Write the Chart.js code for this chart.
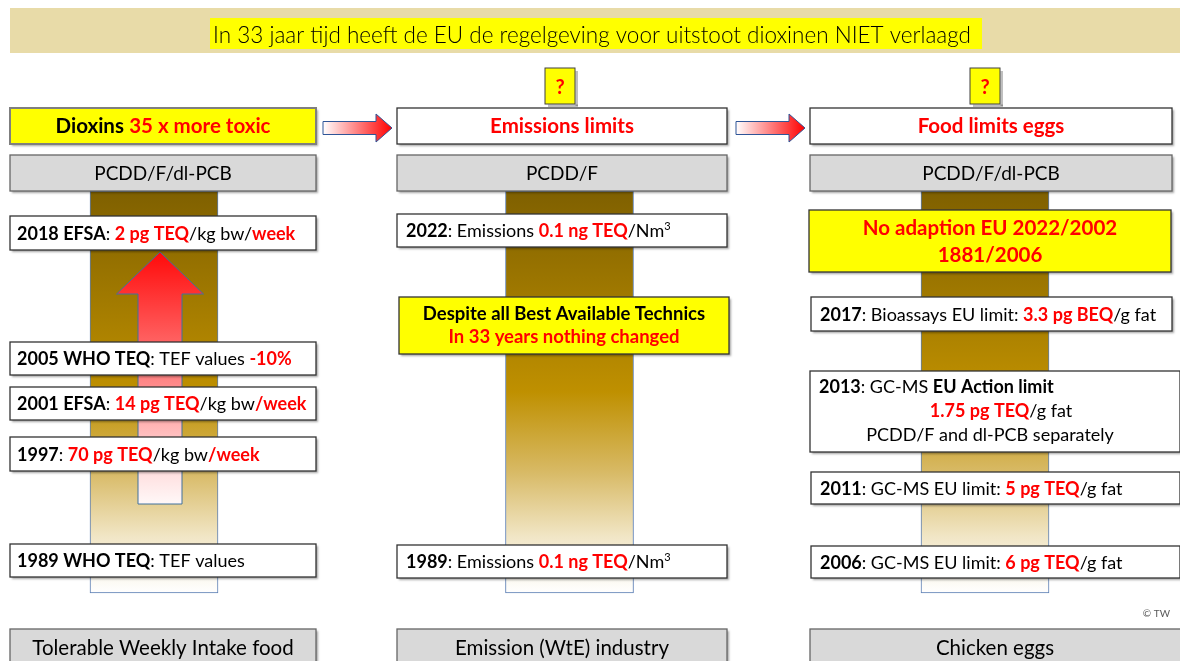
<!DOCTYPE html>
<html>
<head>
<meta charset="utf-8">
<script src="https://cdn.jsdelivr.net/npm/chart.js@4/dist/chart.umd.min.js"></script>
<style>
    html, body { margin: 0; padding: 0; background: #fff; }
    #wrap { width: 1180px; height: 661px; }
</style>
</head>
<body>
<div id="wrap"><canvas id="chart" width="1180" height="661"></canvas></div>
<script>
// === DATA ===
const title = 'In 33 jaar tijd heeft de EU de regelgeving voor uitstoot dioxinen NIET verlaagd';
const columns = ['Tolerable Weekly Intake food', 'Emission (WtE) industry', 'Chicken eggs'];
const compounds = ['PCDD/F/dl-PCB', 'PCDD/F', 'PCDD/F/dl-PCB'];
const spanStart = [1989, 1989, 1989];
const spanEnd = [2022, 2022, 2022];

// markup: *bold*  #red bold#  ^superscript^  | new line
const headlines = ['*Dioxins* #35 x more toxic#', '#Emissions limits#', '#Food limits eggs#'];
const twiNotes = [
    '*2018 EFSA*: #2 pg TEQ#/kg bw/#week#',
    '*2005 WHO TEQ*: TEF values #-10%#',
    '*2001 EFSA*: #14 pg TEQ#/kg bw#/week#',
    '*1997*: #70 pg TEQ#/kg bw#/week#',
    '*1989 WHO TEQ*: TEF values'
];
const emissionNotes = [
    '*2022*: Emissions #0.1 ng TEQ#/Nm^3^',
    '*1989*: Emissions #0.1 ng TEQ#/Nm^3^'
];
const eggNotes = [
    '*2017*: Bioassays EU limit: #3.3 pg BEQ#/g fat',
    '*2013*: GC-MS *EU Action limit*|#1.75 pg TEQ#/g fat|PCDD/F and dl-PCB separately',
    '*2011*: GC-MS EU limit: #5 pg TEQ#/g fat',
    '*2006*: GC-MS EU limit: #6 pg TEQ#/g fat'
];
const callouts = [
    null,
    '*Despite all Best Available Technics*|#In 33 years nothing changed#',
    '#No adaption EU 2022/2002#|#1881/2006#'
];
const credit = '© TW';

// === LAYOUT (slide geometry, px) ===
const FONT = 'Lato, "Open Sans", sans-serif';
const RED = '#ff0000';
const layout = {
    cols: [{ x: 10, w: 306 }, { x: 397, w: 330 }, { x: 810, w: 362 }],
    headline: { y: 108, h: 36 },
    header: { y: 155, h: 36 },
    footer: { y: 629, h: 40 },
    notes: [
        [{ y: 216, h: 34 }, { y: 342, h: 33 }, { y: 387, h: 33 }, { y: 437, h: 34 }, { y: 544, h: 33 }],
        [{ y: 214, h: 33 }, { y: 545, h: 33 }],
        [
            { x: 811, w: 361, y: 297, h: 34 },
            { x: 810, w: 370, y: 371, h: 81, lines: [['left', 819, 393], ['center', 1001, 417], ['center', 990, 441]] },
            { x: 811, w: 369, y: 472, h: 32 },
            { x: 811, w: 369, y: 546, h: 32 }
        ]
    ],
    callouts: [null, { x: 399, y: 297, w: 330, h: 57, base: [320, 343] }, { x: 809, y: 210, w: 362, h: 62, base: [235, 262] }],
    questions: [{ x: 545, y: 68 }, { x: 970, y: 68 }],
    arrows: [{ x0: 323, x1: 392, cy: 128 }, { x0: 736, x1: 805, cy: 128 }],
    twiArrow: { cx: 160, tip: 252, base: 294, bottom: 504 }
};

// === DRAW HELPERS ===
function parseRuns(s) {
    const runs = [];
    let bold = false, red = false, sup = false, buf = '';
    const flush = () => { if (buf) runs.push({ t: buf, bold, red, sup }); buf = ''; };
    for (const ch of s) {
        if (ch === '*') { flush(); bold = !bold; }
        else if (ch === '#') { flush(); red = !red; }
        else if (ch === '^') { flush(); sup = !sup; }
        else buf += ch;
    }
    flush();
    return runs;
}

function runFont(r, size, weight) {
    const sz = r.sup ? Math.round(size * 0.62) : size;
    return `${(r.bold || r.red) ? 'bold' : weight} ${sz}px ${FONT}`;
}

function drawRich(c, s, x, y, size, align, weight = 'normal') {
    const runs = parseRuns(s);
    let total = 0;
    runs.forEach(r => { c.font = runFont(r, size, weight); r.w = c.measureText(r.t).width; total += r.w; });
    let cx = align === 'center' ? x - total / 2 : x;
    c.textAlign = 'left';
    c.textBaseline = 'alphabetic';
    runs.forEach(r => {
        c.font = runFont(r, size, weight);
        c.fillStyle = r.red ? RED : '#000';
        c.fillText(r.t, cx, r.sup ? y - size * 0.38 : y);
        cx += r.w;
    });
}

function rect(c, x, y, w, h, fill, stroke, lw = 1.3, shadow = true) {
    c.save();
    if (shadow) {
        c.shadowColor = 'rgba(0,0,0,0.35)';
        c.shadowOffsetX = 1.5;
        c.shadowOffsetY = 1.5;
        c.shadowBlur = 2;
    }
    c.fillStyle = fill;
    c.fillRect(x, y, w, h);
    c.restore();
    c.strokeStyle = stroke;
    c.lineWidth = lw;
    c.strokeRect(x, y, w, h);
}

function hArrow(c, a) {
    const headX = a.x1 - 16, sh = 6.5, hh = 14;
    const g = c.createLinearGradient(a.x0, 0, a.x1, 0);
    g.addColorStop(0, '#ffffff');
    g.addColorStop(1, '#ff0000');
    c.beginPath();
    c.moveTo(a.x0, a.cy - sh);
    c.lineTo(headX, a.cy - sh);
    c.lineTo(headX, a.cy - hh);
    c.lineTo(a.x1, a.cy);
    c.lineTo(headX, a.cy + hh);
    c.lineTo(headX, a.cy + sh);
    c.lineTo(a.x0, a.cy + sh);
    c.closePath();
    c.fillStyle = g;
    c.fill();
    c.strokeStyle = '#2f5597';
    c.lineWidth = 1;
    c.stroke();
}

function upArrow(c, a) {
    const hw = 43.5, sw = 22;
    const g = c.createLinearGradient(0, a.tip, 0, a.bottom);
    g.addColorStop(0, '#ff0a0a');
    g.addColorStop(0.35, '#ff6060');
    g.addColorStop(0.6, '#ff9c9c');
    g.addColorStop(0.76, '#ffc8c8');
    g.addColorStop(1, '#fff8f8');
    c.beginPath();
    c.moveTo(a.cx, a.tip);
    c.lineTo(a.cx + hw, a.base);
    c.lineTo(a.cx + sw, a.base);
    c.lineTo(a.cx + sw, a.bottom);
    c.lineTo(a.cx - sw, a.bottom);
    c.lineTo(a.cx - sw, a.base);
    c.lineTo(a.cx - hw, a.base);
    c.closePath();
    c.fillStyle = g;
    c.fill();
    c.strokeStyle = '#41719c';
    c.lineWidth = 1;
    c.stroke();
}

// === SLIDE PLUGIN ===
const slidePlugin = {
    id: 'slide',
    beforeDraw(chart) {
        const c = chart.ctx;
        c.save();
        c.fillStyle = '#fff';
        c.fillRect(0, 0, chart.width, chart.height);
        // title banner
        c.fillStyle = '#e8dba8';
        c.fillRect(10, 8, 1170, 45);
        c.fillStyle = '#ffff00';
        c.fillRect(210, 18, 772, 31);
        c.font = `300 22.5px ${FONT}`;
        c.fillStyle = '#000';
        c.textAlign = 'center';
        c.textBaseline = 'alphabetic';
        c.fillText(title, 592, 43);
        c.restore();
    },
    afterDatasetsDraw(chart) {
        const c = chart.ctx;
        c.save();

        // red arrow on the TWI column
        upArrow(c, layout.twiArrow);

        // question marks
        layout.questions.forEach(q => {
            rect(c, q.x, q.y, 30, 36, '#ffff00', '#404040', 1, false);
            c.fillStyle = 'rgba(0,0,0,0.25)';
            c.fillRect(q.x + 30.5, q.y + 3, 2.5, 35);
            c.fillRect(q.x + 3, q.y + 36.5, 30, 2.5);
            c.font = `bold 20px ${FONT}`;
            c.fillStyle = RED;
            c.textAlign = 'center';
            c.fillText('?', q.x + 15, q.y + 26);
        });

        // arrows between columns
        layout.arrows.forEach(a => hArrow(c, a));

        layout.cols.forEach((col, i) => {
            const cx = col.x + col.w / 2;
            // headline
            const hl = layout.headline;
            rect(c, col.x, hl.y, col.w, hl.h, i === 0 ? '#ffff00' : '#ffffff', i === 0 ? '#7f7f7f' : '#333', i === 0 ? 2 : 1.3);
            drawRich(c, headlines[i], cx, hl.y + 25, 20.5, 'center');
            // compound header
            const hd = layout.header;
            rect(c, col.x, hd.y, col.w, hd.h, '#d9d9d9', '#666', 1.3);
            drawRich(c, compounds[i], cx, hd.y + 25, 19, 'center');
            // footer
            const ft = layout.footer;
            const fw = i === 2 ? 1180 - col.x + 2 : col.w;
            rect(c, col.x, ft.y, fw, ft.h, '#d9d9d9', '#666', 1.3);
            drawRich(c, columns[i], i === 2 ? 995 : cx, ft.y + 26, 20.5, 'center');
        });

        // callouts
        layout.callouts.forEach((b, i) => {
            if (!b) return;
            rect(c, b.x, b.y, b.w, b.h, '#ffff00', '#333', 1.3);
            callouts[i].split('|').forEach((line, k) => drawRich(c, line, b.x + b.w / 2, b.base[k], i === 2 ? 20.5 : 18.5, 'center'));
        });

        // timeline notes
        const notes = [twiNotes, emissionNotes, eggNotes];
        notes.forEach((list, ci) => {
            const col = layout.cols[ci];
            list.forEach((txt, k) => {
                const b = Object.assign({ x: col.x, w: col.w }, layout.notes[ci][k]);
                rect(c, b.x, b.y, b.w, b.h, '#ffffff', '#333', 1.3);
                if (b.lines) {
                    txt.split('|').forEach((line, j) => {
                        const [al, lx, ly] = b.lines[j];
                        drawRich(c, line, lx, ly, 18, al);
                    });
                } else {
                    drawRich(c, txt, b.x + (ci === 0 ? 7 : 9), b.y + b.h / 2 + 6.5, 18, 'left');
                }
            });
        });

        // credit
        c.font = `10px ${FONT}`;
        c.fillStyle = '#595959';
        c.textAlign = 'right';
        c.fillText(credit, 1170, 617);
        c.restore();
    }
};

// === CHART ===
const chart = new Chart(document.getElementById('chart'), {
    type: 'bar',
    data: {
        labels: columns,
        datasets: [{
            data: spanStart.map((s, i) => [s, spanEnd[i]]),
            backgroundColor: (ctx) => {
                const area = ctx.chart.chartArea;
                if (!area) return '#bf9000';
                const g = ctx.chart.ctx.createLinearGradient(0, area.top, 0, area.bottom);
                g.addColorStop(0, '#7f6000');
                g.addColorStop(0.5, '#bf9000');
                g.addColorStop(0.7, '#d8ba66');
                g.addColorStop(0.86, '#f1e6c6');
                g.addColorStop(1, '#ffffff');
                return g;
            },
            borderColor: '#5a7db3',
            borderWidth: 1,
            borderSkipped: false,
            barThickness: 128,
            clip: false
        }]
    },
    options: {
        responsive: false,
        devicePixelRatio: 1,
        animation: false,
        layout: { padding: { left: 154, right: 195, top: 191, bottom: 68 } },
        plugins: { legend: { display: false }, tooltip: { enabled: false } },
        scales: {
            x: { type: 'category', offset: false, display: false },
            y: { min: 1989, max: 2022, display: false }
        }
    },
    plugins: [slidePlugin]
});
</script>
</body>
</html>
